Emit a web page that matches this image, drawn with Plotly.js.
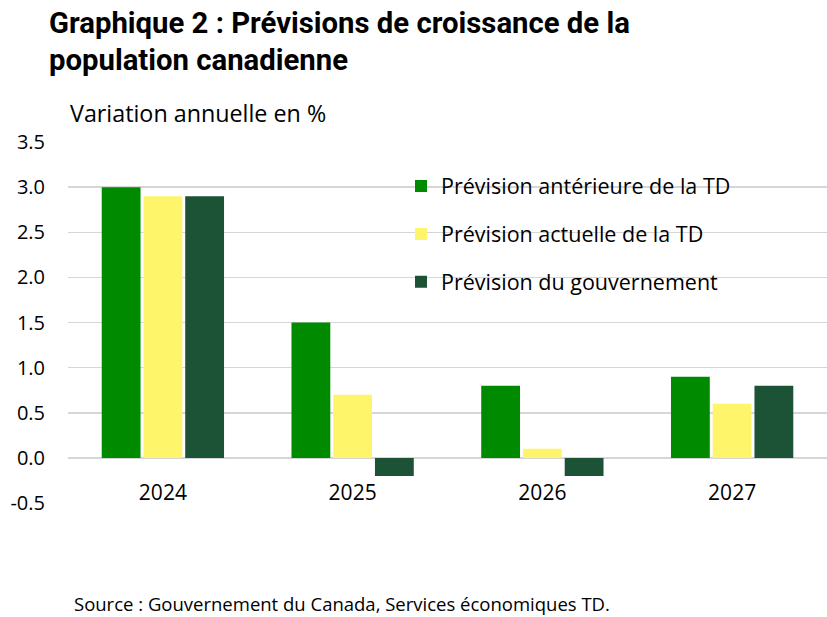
<!DOCTYPE html>
<html><head><meta charset="utf-8">
<script src="https://cdn.plot.ly/plotly-3.0.1.min.js"></script>
<style>html,body{margin:0;padding:0;background:#fff}#chart{width:827px;height:617px}</style>
</head><body><div id="chart"></div>
<script>
const categories = ['2024', '2025', '2026', '2027'];
const seriesNames = ['Prévision antérieure de la TD', 'Prévision actuelle de la TD', 'Prévision du gouvernement'];
const prevTD = [3.0, 1.5, 0.8, 0.9];
const currTD = [2.9, 0.7, 0.1, 0.6];
const govt = [2.9, -0.2, -0.2, 0.8];
const yTicks = [-0.5, 0, 0.5, 1, 1.5, 2, 2.5, 3, 3.5];
const yTickText = ['-0.5', '0.0', '0.5', '1.0', '1.5', '2.0', '2.5', '3.0', '3.5'];
const titleLines = ['Graphique 2 : Prévisions de croissance de la', 'population canadienne'];
const colors = ['#008A00', '#FFF56B', '#1C5337'];

const FONT = '"Open Sans", Roboto, sans-serif';
const TFONT = 'Roboto, "Open Sans", sans-serif';
const values = [prevTD, currTD, govt];
const traces = values.map((v, i) => ({
  type: 'bar', x: categories, y: v, name: seriesNames[i],
  marker: {color: colors[i], line: {width: 0}},
  legendgroup: 'g' + i, hoverinfo: 'skip'
}));

const yMin = -0.5, yMax = 3.5;
const T = 141.5, B = 503, H = B - T;
const py = (pix) => (B - pix) / H;
const layout = {
  width: 827, height: 617,
  paper_bgcolor: '#fff', plot_bgcolor: '#fff',
  margin: {l: 68, r: 0, t: T, b: 617 - B, pad: 0},
  font: {family: FONT, color: '#000', size: 19},
  barmode: 'group', bargap: 0.34, bargroupgap: 0.07,
  showlegend: true,
  legend: {
    x: (401 - 68) / 759, xanchor: 'left', y: py(165), yanchor: 'top',
    font: {family: FONT, size: 21.5, color: '#000'}, bgcolor: 'rgba(0,0,0,0)',
    traceorder: 'grouped', tracegroupgap: 17, itemclick: false
  },
  xaxis: {
    type: 'category', anchor: 'free', position: (0 - yMin) / (yMax - yMin),
    showgrid: false, zeroline: false, showline: false, ticks: '',
    ticklabelstandoff: 20, tickfont: {family: FONT, size: 21, color: '#000'},
    fixedrange: true
  },
  yaxis: {
    range: [yMin, yMax], tickvals: yTicks, ticktext: yTickText,
    showgrid: true, gridcolor: '#d6d6d6', gridwidth: 1.5,
    zeroline: true, zerolinecolor: '#d6d6d6', zerolinewidth: 1.5,
    showline: false, ticks: '', ticklabelstandoff: 22,
    tickfont: {family: FONT, size: 20, color: '#000'}, fixedrange: true
  },
  annotations: [
    {text: '<b>' + titleLines[0] + '</b>', xref: 'paper', yref: 'paper', x: (47 - 68) / 759, xanchor: 'left',
     y: py(22), yanchor: 'middle', showarrow: false, font: {family: TFONT, size: 29.3, color: '#000'}},
    {text: '<b>' + titleLines[1] + '</b>', xref: 'paper', yref: 'paper', x: (47 - 68) / 759, xanchor: 'left',
     y: py(59), yanchor: 'middle', showarrow: false, font: {family: TFONT, size: 29.3, color: '#000'}},
    {text: 'Variation annuelle en %', xref: 'paper', yref: 'paper', x: 0, xanchor: 'left',
     y: py(112), yanchor: 'middle', showarrow: false,
     font: {family: FONT, size: 23.3, color: '#000'}},
    {text: 'Source : Gouvernement du Canada, Services économiques TD.', xref: 'paper', yref: 'paper',
     x: (72 - 68) / 759, xanchor: 'left', y: py(604), yanchor: 'middle', showarrow: false,
     font: {family: FONT, size: 18.5, color: '#000'}}
  ]
};
Plotly.newPlot('chart', traces, layout, {displayModeBar: false, staticPlot: true});
</script></body></html>
